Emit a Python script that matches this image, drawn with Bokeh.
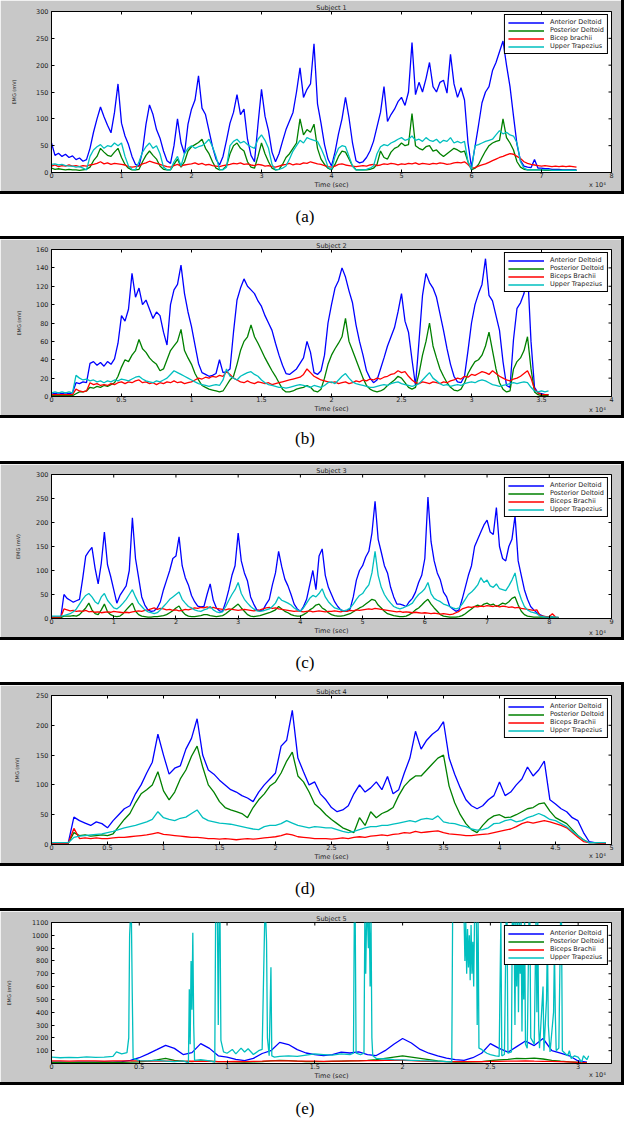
import numpy as np
from bokeh.plotting import figure
from bokeh.models import (Range1d, FixedTicker, Legend, LegendItem,
                          Div, NumeralTickFormatter, Column)
from bokeh.embed import file_html
from bokeh.resources import INLINE

# ---------------- DATA (x in units of 10^4, EMG in mV) ----------------
names_1 = ["Anterior Deltoid", "Posterior Deltoid", "Bicep brachii", "Upper Trapezius"]
names_2 = ["Anterior Deltoid", "Posterior Deltoid", "Biceps Brachii", "Upper Trapezius"]

# Subject 1: samples every 0.05 from 0
step_1 = 0.05
ad_1 = [55, 32, 36, 30, 34, 28, 31, 24, 27, 21,
        24, 45, 75, 100, 122, 104, 88, 74, 112, 165,
        92, 68, 52, 30, 15, 12, 40, 90, 126, 108,
        80, 64, 40, 22, 17, 50, 100, 55, 35, 90,
        118, 135, 180, 120, 108, 78, 48, 25, 14, 30,
        60, 92, 112, 145, 108, 118, 62, 32, 20, 90,
        155, 105, 78, 38, 20, 35, 58, 80, 96, 112,
        150, 195, 140, 155, 165, 240, 128, 92, 52, 25,
        12, 38, 72, 100, 140, 102, 55, 22, 18, 20,
        28, 40, 58, 85, 112, 160, 95, 108, 118, 132,
        140, 125, 150, 242, 145, 168, 150, 175, 205, 160,
        150, 168, 172, 148, 220, 165, 140, 158, 135, 55,
        10, 48, 88, 130, 150, 160, 190, 205, 225, 245,
        200, 160, 105, 52, 22, 12, 10, 9, 24, 8,
        8, 7, 7, 6, 6, 6, 5, 5, 5, 5,
        5]
pd_1 = [8, 6, 7, 6, 5, 6, 5, 5, 4, 5,
        6, 10, 22, 30, 45, 38, 32, 30, 38, 45,
        28, 15, 8, 5, 5, 6, 20, 32, 40, 32,
        25, 12, 6, 5, 5, 15, 25, 10, 20, 40,
        48, 52, 56, 62, 45, 35, 20, 8, 5, 6,
        12, 35, 50, 55, 45, 40, 20, 10, 8, 30,
        55, 35, 20, 8, 5, 6, 15, 28, 35, 45,
        55, 100, 70, 80, 75, 90, 45, 25, 15, 8,
        5, 15, 30, 40, 38, 25, 12, 5, 5, 5,
        5, 6, 8, 15, 40, 28, 25, 38, 45, 48,
        55, 50, 52, 110, 50, 45, 42, 48, 50, 40,
        42, 35, 30, 35, 40, 45, 42, 38, 40, 20,
        5, 8, 15, 28, 40, 50, 55, 58, 60, 100,
        65, 55, 42, 20, 10, 6, 5, 5, 5, 5,
        5, 4, 4, 4, 4, 4, 4, 4, 4, 4,
        4]
bb_1 = [12, 14, 11, 13, 12, 14, 12, 13, 11, 13,
        12, 14, 15, 17, 20, 16, 18, 15, 17, 16,
        15, 14, 11, 10, 11, 12, 16, 18, 21, 19,
        17, 15, 13, 11, 10, 13, 15, 12, 14, 15,
        16, 18, 15, 17, 14, 15, 13, 12, 11, 13,
        14, 15, 17, 16, 18, 15, 16, 14, 13, 15,
        14, 12, 13, 11, 10, 12, 14, 15, 17, 14,
        16, 15, 18, 17, 20, 18, 16, 15, 13, 11,
        10, 12, 15, 16, 14, 13, 12, 11, 12, 13,
        12, 14, 15, 13, 14, 16, 15, 17, 16, 14,
        16, 15, 17, 16, 18, 15, 17, 16, 15, 17,
        16, 18, 17, 15, 16, 18, 19, 18, 20, 15,
        8, 9, 12, 14, 16, 19, 22, 25, 28, 30,
        33, 35, 34, 30, 26, 20, 17, 15, 14, 13,
        12, 13, 12, 11, 12, 11, 12, 11, 12, 11,
        10]
ut_1 = [15, 16, 14, 15, 13, 12, 12, 10, 11, 8,
        5, 30, 42, 48, 52, 45, 50, 48, 55, 50,
        55, 30, 12, 6, 5, 20, 38, 48, 55, 45,
        50, 35, 10, 5, 5, 20, 30, 12, 35, 45,
        50, 45, 48, 50, 55, 62, 48, 30, 6, 5,
        10, 50, 58, 62, 55, 58, 52, 48, 45, 62,
        70, 60, 45, 15, 5, 6, 8, 12, 25, 40,
        50, 60, 55, 65, 62, 60, 58, 45, 30, 10,
        5, 30, 45, 50, 48, 30, 12, 5, 5, 5,
        6, 8, 12, 35, 48, 52, 50, 55, 58, 62,
        65, 60, 62, 68, 60, 62, 58, 65, 60, 58,
        62, 55, 60, 58, 65, 55, 58, 55, 58, 20,
        5, 50, 52, 55, 58, 60, 62, 70, 78, 72,
        75, 70, 68, 55, 20, 8, 5, 5, 5, 5,
        5, 5, 5, 4, 4, 4, 4, 4, 4, 4,
        4]

# Subject 2: samples every 0.025 from 0
step_2 = 0.025
ad_2 = [4, 3, 4, 3, 4, 3, 4, 15, 14, 16,
        15, 36, 38, 34, 37, 33, 38, 35, 41, 58,
        88, 82, 95, 134, 108, 118, 100, 105, 95, 85,
        92, 88, 70, 56, 100, 116, 122, 143, 112, 92,
        76, 56, 36, 26, 24, 22, 23, 25, 40, 26,
        27, 30, 70, 105, 118, 128, 120, 116, 112, 104,
        98, 88, 80, 72, 58, 45, 34, 25, 24, 27,
        30, 36, 42, 60, 48, 26, 24, 28, 45, 80,
        100, 118, 126, 140, 130, 115, 102, 78, 60, 45,
        28, 20, 15, 18, 30, 42, 55, 65, 75, 92,
        112, 82, 70, 40, 12, 60, 110, 134, 124, 118,
        108, 90, 72, 52, 35, 22, 16, 15, 22, 50,
        80, 100, 112, 122, 150, 110, 104, 88, 72, 38,
        12, 10, 62, 96, 102, 112, 138, 60, 10, 4,
        3, 2, 2]
pd_2 = [1, 1, 1, 1, 1, 1, 1, 3, 5, 5,
        6, 10, 9, 11, 10, 12, 11, 13, 15, 22,
        32, 40, 38, 45, 50, 62, 52, 48, 42, 38,
        35, 28, 30, 40, 50, 55, 60, 73, 50, 42,
        35, 25, 18, 12, 10, 8, 7, 6, 5, 6,
        12, 18, 22, 35, 50, 60, 65, 78, 65, 58,
        50, 42, 35, 28, 22, 15, 8, 5, 5, 6,
        8, 9, 10, 12, 10, 6, 5, 8, 20, 35,
        45, 52, 58, 65, 85, 60, 50, 40, 30, 20,
        12, 8, 6, 5, 6, 8, 12, 15, 18, 22,
        20, 15, 10, 8, 10, 25, 45, 60, 80, 55,
        42, 30, 22, 15, 10, 7, 6, 8, 15, 25,
        32, 38, 40, 45, 55, 70, 50, 30, 15, 8,
        5, 6, 30, 38, 42, 50, 65, 30, 5, 2,
        1, 1, 1]
bb_2 = [2, 2, 2, 2, 2, 2, 2, 8, 6, 5,
        6, 15, 13, 14, 12, 13, 12, 14, 13, 15,
        16, 14, 16, 15, 17, 18, 15, 16, 14, 15,
        13, 15, 14, 16, 15, 17, 15, 16, 14, 15,
        16, 18, 20, 19, 21, 20, 22, 21, 23, 22,
        27, 24, 20, 18, 16, 15, 17, 15, 14, 16,
        15, 14, 15, 13, 14, 15, 16, 17, 18, 19,
        20, 21, 24, 30, 26, 22, 20, 18, 17, 16,
        15, 16, 14, 15, 16, 14, 15, 17, 16, 18,
        17, 19, 18, 20, 19, 21, 22, 24, 25, 28,
        26, 27, 22, 18, 15, 14, 16, 15, 14, 16,
        15, 14, 16, 15, 17, 18, 20, 19, 22, 21,
        24, 23, 25, 27, 26, 24, 28, 25, 22, 20,
        18, 17, 19, 20, 22, 25, 28, 20, 8, 4,
        2, 2, 2]
ut_2 = [4, 5, 4, 5, 4, 5, 4, 23, 20, 18,
        19, 17, 18, 16, 17, 15, 17, 16, 18, 17,
        19, 18, 17, 19, 21, 22, 19, 17, 16, 15,
        17, 16, 18, 20, 24, 28, 26, 24, 22, 20,
        18, 16, 14, 13, 12, 11, 12, 13, 12, 18,
        30, 22, 20, 18, 22, 24, 26, 27, 24, 22,
        18, 15, 13, 12, 11, 10, 10, 9, 10, 11,
        12, 13, 12, 11, 10, 12, 11, 10, 12, 15,
        16, 14, 18, 22, 25, 20, 16, 14, 13, 12,
        11, 10, 10, 11, 12, 13, 12, 14, 15, 16,
        14, 13, 12, 11, 12, 14, 18, 22, 26, 20,
        17, 14, 12, 13, 11, 12, 13, 12, 14, 15,
        16, 15, 17, 18, 17, 15, 13, 12, 11, 12,
        13, 14, 15, 14, 15, 16, 15, 10, 6, 5,
        6, 5, 6]

# Subject 3: samples every 0.05 from 0
step_3 = 0.05
ad_3 = [3, 3, 3, 3, 50, 42, 38, 34, 37, 40,
        82, 130, 140, 148, 105, 72, 115, 180, 112, 88,
        60, 32, 48, 58, 68, 100, 210, 125, 85, 45,
        28, 18, 15, 16, 22, 35, 60, 80, 100, 125,
        130, 170, 110, 85, 70, 48, 35, 26, 24, 25,
        50, 72, 38, 22, 16, 15, 35, 60, 90, 110,
        178, 120, 95, 78, 45, 30, 18, 16, 18, 30,
        40, 70, 95, 140, 108, 82, 68, 50, 30, 20,
        15, 25, 40, 70, 100, 60, 130, 145, 90, 65,
        50, 35, 25, 18, 15, 16, 20, 45, 80, 100,
        110, 128, 140, 178, 244, 165, 138, 110, 95, 65,
        45, 30, 30, 28, 25, 35, 42, 55, 75, 90,
        125, 253, 160, 120, 95, 80, 55, 45, 25, 20,
        15, 18, 40, 65, 90, 110, 150, 165, 180, 195,
        205, 180, 175, 231, 150, 125, 120, 150, 165, 214,
        120, 90, 60, 40, 25, 18, 12, 8, 5, 3,
        3, 3, 2, 2]
pd_3 = [2, 2, 2, 2, 5, 5, 5, 6, 5, 8,
        15, 22, 32, 18, 10, 8, 18, 30, 14, 8,
        5, 4, 5, 10, 18, 25, 32, 15, 8, 5,
        4, 3, 3, 4, 4, 5, 6, 8, 12, 16,
        22, 26, 15, 8, 5, 4, 4, 5, 6, 8,
        8, 6, 5, 4, 5, 6, 10, 15, 20, 25,
        30, 22, 15, 8, 5, 4, 5, 6, 8, 10,
        12, 15, 18, 25, 20, 15, 12, 8, 6, 5,
        5, 8, 12, 18, 22, 28, 30, 22, 18, 12,
        8, 6, 5, 5, 6, 8, 10, 14, 18, 22,
        25, 30, 35, 40, 38, 28, 22, 15, 10, 8,
        6, 5, 4, 4, 5, 8, 12, 18, 22, 28,
        35, 40, 30, 22, 15, 8, 5, 4, 3, 3,
        3, 4, 6, 10, 15, 20, 25, 28, 25, 30,
        32, 28, 30, 25, 28, 32, 30, 35, 42, 45,
        28, 15, 8, 5, 4, 3, 3, 3, 3, 3,
        3, 3, 2, 2]
bb_3 = [3, 3, 3, 3, 20, 18, 16, 17, 15, 16,
        15, 17, 14, 15, 13, 14, 12, 13, 14, 13,
        15, 14, 13, 12, 13, 12, 14, 15, 16, 15,
        17, 18, 20, 22, 19, 21, 20, 18, 19, 17,
        18, 16, 17, 19, 18, 20, 22, 21, 23, 22,
        24, 22, 23, 21, 20, 19, 18, 20, 19, 18,
        17, 18, 19, 18, 17, 16, 17, 18, 20, 22,
        23, 21, 22, 20, 19, 18, 17, 16, 15, 16,
        15, 14, 15, 16, 14, 15, 16, 15, 14, 15,
        15, 16, 15, 14, 16, 15, 17, 16, 18, 17,
        18, 19, 20, 19, 21, 20, 19, 18, 17, 16,
        15, 14, 15, 13, 14, 13, 12, 13, 12, 11,
        12, 11, 10, 11, 10, 9, 10, 9, 8, 9,
        12, 15, 20, 22, 24, 23, 25, 24, 26, 25,
        27, 26, 25, 27, 24, 26, 25, 23, 24, 22,
        23, 21, 20, 19, 18, 17, 18, 6, 5, 4,
        4, 10, 3, 2]
ut_3 = [5, 5, 5, 5, 6, 8, 10, 14, 20, 30,
        40, 48, 52, 45, 35, 30, 45, 52, 38, 30,
        22, 20, 25, 32, 40, 50, 60, 45, 32, 25,
        18, 14, 12, 10, 12, 18, 25, 32, 40, 45,
        50, 55, 40, 32, 25, 22, 18, 16, 15, 18,
        20, 25, 18, 14, 12, 14, 25, 38, 50, 60,
        75, 52, 40, 32, 25, 20, 16, 15, 16, 18,
        20, 25, 32, 45, 38, 35, 32, 28, 22, 18,
        15, 22, 32, 42, 48, 45, 52, 62, 45, 35,
        28, 22, 20, 18, 16, 18, 22, 30, 40, 48,
        52, 62, 70, 95, 140, 90, 65, 50, 40, 32,
        25, 22, 20, 22, 25, 28, 32, 42, 50, 55,
        62, 75, 52, 42, 38, 35, 30, 28, 25, 22,
        20, 22, 30, 40, 50, 55, 62, 70, 85, 75,
        80, 68, 65, 72, 62, 60, 58, 68, 80, 95,
        60, 40, 25, 18, 14, 12, 10, 5, 4, 3,
        3, 3, 3, 3]

# Subject 4: samples every 0.05 from 0
step_4 = 0.05
ad_4 = [3, 3, 3, 3, 46, 40, 36, 32, 38, 35,
        28, 40, 50, 60, 65, 85, 100, 120, 138, 185,
        150, 118, 128, 132, 160, 178, 211, 150, 125, 118,
        108, 100, 92, 88, 82, 78, 72, 88, 100, 110,
        120, 165, 175, 225, 145, 122, 100, 105, 85, 75,
        62, 55, 58, 65, 85, 100, 88, 95, 105, 92,
        114, 85, 92, 120, 145, 190, 160, 175, 185, 192,
        206, 145, 118, 95, 75, 65, 60, 65, 75, 82,
        105, 82, 88, 100, 110, 130, 115, 125, 140, 75,
        68, 60, 55, 45, 40, 20, 5, 3, 3, 2]
pd_4 = [2, 2, 2, 2, 20, 15, 16, 14, 15, 16,
        15, 18, 30, 42, 52, 70, 85, 92, 100, 122,
        90, 75, 88, 110, 125, 148, 165, 130, 100, 88,
        72, 62, 58, 55, 52, 45, 62, 75, 85, 98,
        105, 120, 140, 155, 115, 105, 88, 68, 60, 50,
        42, 35, 28, 24, 20, 45, 32, 55, 45, 52,
        56, 62, 82, 98, 108, 115, 115, 125, 135, 145,
        150, 98, 70, 50, 35, 25, 20, 32, 42, 48,
        50, 45, 46, 50, 55, 60, 62, 68, 70, 56,
        45, 40, 35, 25, 15, 8, 3, 3, 2, 2]
bb_4 = [2, 2, 2, 2, 27, 10, 11, 10, 11, 10,
        10, 11, 12, 12, 13, 14, 15, 16, 18, 20,
        17, 16, 15, 14, 13, 12, 12, 11, 10, 10,
        9, 10, 9, 8, 9, 10, 9, 10, 11, 12,
        13, 15, 18, 16, 13, 12, 11, 10, 10, 10,
        9, 10, 11, 10, 12, 13, 12, 14, 15, 16,
        15, 17, 18, 20, 19, 22, 20, 21, 22, 23,
        20, 18, 17, 16, 15, 15, 16, 17, 18, 20,
        22, 24, 26, 30, 35, 38, 36, 38, 40, 38,
        35, 32, 28, 20, 12, 5, 3, 3, 2, 2]
ut_4 = [3, 3, 3, 3, 12, 14, 15, 16, 17, 18,
        20, 22, 25, 28, 30, 32, 35, 38, 42, 55,
        45, 42, 40, 44, 46, 52, 58, 45, 40, 38,
        36, 35, 34, 32, 30, 28, 26, 25, 30, 32,
        32, 35, 40, 36, 32, 30, 28, 30, 29, 28,
        28, 25, 22, 20, 22, 25, 28, 30, 30, 32,
        32, 34, 36, 38, 40, 38, 42, 44, 42, 48,
        38, 36, 35, 32, 30, 26, 24, 25, 28, 35,
        36, 40, 42, 38, 40, 45, 48, 52, 48, 42,
        40, 35, 30, 22, 15, 8, 3, 3, 3, 3]

# Subject 5: samples every 0.05 from 0 (Upper Trapezius read point by point)
step_5 = 0.05
ad_5 = [10, 10, 9, 10, 11, 10, 12, 11, 15, 25,
        45, 75, 108, 142, 118, 70, 85, 155, 118, 60,
        50, 32, 22, 40, 78, 100, 165, 148, 108, 82,
        70, 62, 70, 88, 82, 90, 70, 62, 100, 150,
        195, 160, 110, 80, 60, 42, 30, 25, 45, 80,
        155, 118, 88, 132, 175, 140, 195, 100, 80, 60,
        20, 10]
pd_5 = [8, 8, 7, 8, 8, 9, 8, 8, 9, 10,
        12, 18, 28, 40, 25, 18, 15, 20, 18, 15,
        15, 12, 10, 12, 15, 20, 25, 22, 18, 15,
        15, 14, 16, 18, 20, 22, 25, 30, 40, 50,
        60, 50, 40, 30, 20, 15, 10, 10, 12, 15,
        22, 28, 32, 40, 38, 42, 35, 25, 18, 12,
        8, 5]
bb_5 = [20, 21, 19, 20, 21, 20, 19, 20, 21, 20,
        20, 19, 18, 19, 18, 17, 18, 17, 16, 15,
        15, 16, 15, 17, 18, 20, 21, 20, 19, 18,
        18, 17, 18, 19, 20, 21, 22, 23, 24, 25,
        25, 22, 18, 16, 15, 14, 15, 14, 15, 15,
        16, 17, 18, 19, 20, 18, 17, 16, 15, 12,
        8, 5]
ut_5_t = [0.00, 0.05, 0.10, 0.15, 0.20, 0.25, 0.30, 0.35, 0.37, 0.40,
          0.43, 0.44, 0.445, 0.45, 0.455, 0.46, 0.465, 0.50, 0.55, 0.60,
          0.65, 0.70, 0.75, 0.78, 0.785, 0.79, 0.795, 0.80, 0.805, 0.81,
          0.815, 0.85, 0.90, 0.93, 0.935, 0.945, 0.95, 0.955, 0.96, 0.965,
          0.98, 1.00, 1.03, 1.05, 1.08, 1.10, 1.12, 1.15, 1.18, 1.20,
          1.215, 1.22, 1.225, 1.23, 1.24, 1.25, 1.255, 1.27, 1.30, 1.35,
          1.40, 1.45, 1.50, 1.55, 1.60, 1.65, 1.70, 1.72, 1.725, 1.73,
          1.735, 1.76, 1.78, 1.785, 1.79, 1.795, 1.80, 1.805, 1.81, 1.815,
          1.82, 1.825, 1.83, 1.85, 1.90, 1.95, 2.00, 2.05, 2.10, 2.15,
          2.20, 2.25, 2.28, 2.285, 2.30, 2.33, 2.35, 2.355, 2.36, 2.365,
          2.37, 2.375, 2.38, 2.385, 2.39, 2.395, 2.40, 2.405, 2.41, 2.42,
          2.425, 2.43, 2.435, 2.45, 2.48, 2.50, 2.53, 2.55, 2.56, 2.565,
          2.58, 2.59, 2.595, 2.60, 2.62, 2.625, 2.63, 2.635, 2.64, 2.645,
          2.65, 2.655, 2.66, 2.665, 2.67, 2.675, 2.68, 2.685, 2.69, 2.695,
          2.70, 2.71, 2.72, 2.725, 2.73, 2.75, 2.76, 2.765, 2.77, 2.775,
          2.78, 2.80, 2.805, 2.82, 2.825, 2.83, 2.84, 2.86, 2.865, 2.87,
          2.875, 2.89, 2.90, 2.905, 2.91, 2.94, 2.95, 2.96, 2.98, 3.00,
          3.02, 3.03, 3.05, 3.06]
ut_5 = [50, 45, 48, 46, 52, 48, 50, 55, 90, 75,
        85, 200, 1000, 1150, 1150, 550, 40, 22, 20, 25,
        18, 15, 20, 5, 580, 150, 800, 420, 1020, 300,
        25, 30, 20, 10, 1150, 1150, 300, 1150, 1150, 180,
        90, 80, 110, 75, 120, 90, 115, 70, 100, 110,
        1150, 1150, 950, 200, 60, 750, 60, 50, 55, 60,
        55, 65, 75, 70, 65, 75, 70, 80, 1150, 1150,
        80, 70, 80, 1150, 700, 1150, 1150, 900, 1150, 600,
        1150, 200, 60, 40, 35, 30, 28, 25, 22, 20,
        18, 15, 12, 1150, 1150, 1150, 1150, 800, 1100, 700,
        1050, 750, 1000, 650, 1080, 700, 950, 600, 1150, 1150,
        300, 1150, 120, 110, 80, 70, 60, 55, 1150, 60,
        70, 1150, 1150, 80, 90, 1150, 900, 1150, 300, 1150,
        600, 1150, 400, 1150, 700, 1150, 250, 1000, 500, 1150,
        150, 120, 1150, 1150, 200, 150, 1150, 400, 1150, 300,
        120, 600, 100, 500, 1000, 300, 90, 400, 900, 380,
        100, 120, 1150, 1150, 100, 60, 100, 40, 60, 50,
        10, 60, 30, 60]

# axis setup per subject
xmax_list = [8, 4, 9, 5, 3.19]
xticks_list = [[0, 1, 2, 3, 4, 5, 6, 7, 8],
               [0, 0.5, 1, 1.5, 2, 2.5, 3, 3.5, 4],
               [0, 1, 2, 3, 4, 5, 6, 7, 8, 9],
               [0, 0.5, 1, 1.5, 2, 2.5, 3, 3.5, 4, 4.5, 5],
               [0, 0.5, 1, 1.5, 2, 2.5, 3]]
ymax_list = [300, 160, 300, 250, 1100]
yticks_list = [[0, 50, 100, 150, 200, 250, 300],
               [0, 20, 40, 60, 80, 100, 120, 140, 160],
               [0, 50, 100, 150, 200, 250, 300],
               [0, 50, 100, 150, 200, 250],
               [100, 200, 300, 400, 500, 600, 700, 800, 900, 1000, 1100]]
titles = ["Subject 1", "Subject 2", "Subject 3", "Subject 4", "Subject 5"]
panel_tags = ["(a)", "(b)", "(c)", "(d)", "(e)"]
x_multiplier = "x 10\u2074"

# ---------------- STYLE ----------------
COLORS = ["#0000ff", "#008000", "#ff0000", "#00bfbf"]
GRAY = "#c8c8c8"
FONT = "DejaVu Sans"
TXT = "#222222"
W = 621

# per panel: height, min borders (top, bottom, left, right), y-label standoff
layout_list = [
    dict(h=191, t=11, b=18, l=45, r=10, yls=16),
    dict(h=176, t=10, b=15, l=43, r=10, yls=11),
    dict(h=173, t=9, b=15, l=40, r=10, yls=12),
    dict(h=178, t=9, b=17, l=40, r=9, yls=13),
    dict(h=171, t=11, b=18, l=51, r=9, yls=17),
]
# gap below each panel: height, tag top, "x 10^4" top (relative to gap top)
gap_list = [(48, 17, -10), (49, 15, -9), (48, 17, -8), (48, 17, -11), (29, 18, -11)]


def style_axis(ax, ticks, standoff):
    ax.ticker = FixedTicker(ticks=ticks)
    ax.formatter = NumeralTickFormatter(format="0.[0]")
    ax.major_tick_in = 3
    ax.major_tick_out = 0
    ax.minor_tick_line_color = None
    ax.axis_line_color = "black"
    ax.major_tick_line_color = "black"
    ax.major_label_text_font = FONT
    ax.major_label_text_color = TXT
    ax.major_label_text_font_size = "6.5px"
    ax.major_label_standoff = standoff
    ax.axis_label_text_font = FONT
    ax.axis_label_text_font_style = "normal"
    ax.axis_label_text_color = TXT


def build_panel(i, series_t, series_y, names):
    lay = layout_list[i]
    xmax, ymax = xmax_list[i], ymax_list[i]
    xt, yt = xticks_list[i], yticks_list[i]
    p = figure(width=W, height=lay["h"],
               x_range=Range1d(0, xmax), y_range=Range1d(0, ymax),
               output_backend="svg", toolbar_location=None,
               min_border_top=lay["t"], min_border_bottom=lay["b"],
               min_border_left=lay["l"], min_border_right=lay["r"],
               border_fill_color=GRAY, background_fill_color="white",
               outline_line_color="black", outline_line_alpha=1.0,
               title=titles[i],
               styles={"outline": "3px solid black"})
    p.grid.visible = False
    p.title.text_font = FONT
    p.title.text_font_size = "6.5px"
    p.title.text_font_style = "normal"
    p.title.text_color = TXT
    p.title.align = "center"
    p.title.standoff = 0

    style_axis(p.xaxis[0], xt, 0)
    p.xaxis[0].axis_label = "Time (sec)"
    p.xaxis[0].axis_label_text_font_size = "6.5px"
    p.xaxis[0].axis_label_standoff = 0

    style_axis(p.yaxis[0], yt, 3)
    p.yaxis[0].axis_label = "EMG (mV)"
    p.yaxis[0].axis_label_text_font_size = "5px"
    p.yaxis[0].axis_label_standoff = lay["yls"]

    # inward ticks on the top and right edges of the box
    p.scatter(xt, [ymax] * len(xt), marker="dash", angle=np.pi / 2, size=6,
              line_color="black", line_width=1)
    p.scatter([xmax] * len(yt), yt, marker="dash", size=6,
              line_color="black", line_width=1)

    items = []
    for t, y, c, nm in zip(series_t, series_y, COLORS, names):
        r = p.line(t, y, line_color=c, line_width=1.3)
        items.append(LegendItem(label=nm, renderers=[r]))
    leg = Legend(items=items, location="top_right",
                 label_text_font=FONT, label_text_font_size="6.5px",
                 label_text_color=TXT,
                 label_height=5, glyph_height=5, glyph_width=36,
                 label_standoff=6, spacing=-2, padding=3, margin=3,
                 border_line_color="black", border_line_width=1, border_line_alpha=1,
                 background_fill_color="white", background_fill_alpha=1)
    p.add_layout(leg)
    return p


def gap_div(i):
    h, tag_top, mult_top = gap_list[i]
    html = ('<div style="position:relative;width:%dpx;height:%dpx;">'
            '<div style="position:absolute;left:589px;top:%dpx;font-family:\'DejaVu Sans\',sans-serif;'
            'font-size:6.5px;line-height:8px;color:#222;white-space:nowrap;">%s</div>'
            '<div style="position:absolute;left:0;top:%dpx;width:610px;text-align:center;'
            'font-family:\'Liberation Serif\',serif;font-size:17px;line-height:17px;color:#000;">%s</div>'
            '</div>') % (W, h, mult_top, x_multiplier, tag_top, panel_tags[i])
    return Div(text=html, width=W, height=h, margin=0)


def grid(step, y):
    return list(np.round(np.arange(len(y)) * step, 4))


all_series = [
    ([grid(step_1, s) for s in (ad_1, pd_1, bb_1, ut_1)], [ad_1, pd_1, bb_1, ut_1], names_1),
    ([grid(step_2, s) for s in (ad_2, pd_2, bb_2, ut_2)], [ad_2, pd_2, bb_2, ut_2], names_2),
    ([grid(step_3, s) for s in (ad_3, pd_3, bb_3, ut_3)], [ad_3, pd_3, bb_3, ut_3], names_2),
    ([grid(step_4, s) for s in (ad_4, pd_4, bb_4, ut_4)], [ad_4, pd_4, bb_4, ut_4], names_2),
    ([grid(step_5, ad_5), grid(step_5, pd_5), grid(step_5, bb_5), ut_5_t[:len(ut_5)]],
     [ad_5, pd_5, bb_5, ut_5[:len(ut_5_t)]], names_2),
]

children = []
for i, (ts, ys, nms) in enumerate(all_series):
    children.append(build_panel(i, ts, ys, nms))
    children.append(gap_div(i))

layout = Column(children=children, spacing=0)

open("out.html", "w").write(file_html(layout, INLINE))
